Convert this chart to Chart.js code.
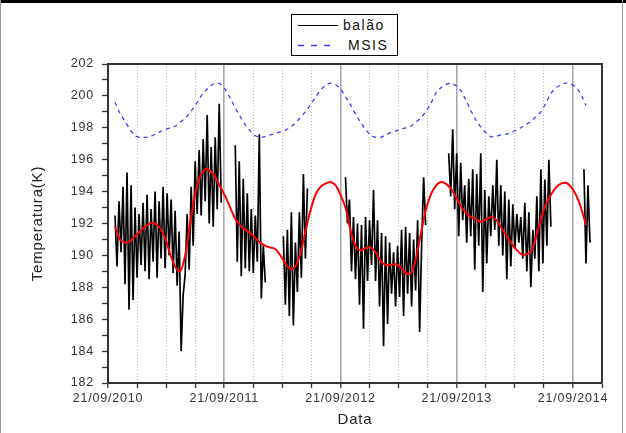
<!DOCTYPE html>
<html><head><meta charset="utf-8">
<script src="https://cdn.jsdelivr.net/npm/chart.js@4.4.0/dist/chart.umd.min.js"></script>
<style>
html,body{margin:0;padding:0;background:#fff;}
#wrap{position:relative;width:626px;height:433px;overflow:hidden;background:#fff;}
canvas{position:absolute;left:0;top:0;}
#frameTop{position:absolute;left:0;top:0;width:626px;height:3px;background:#000;}
#frameL{position:absolute;left:0;top:0;width:1px;height:433px;background:#999;}
#frameR{position:absolute;left:622px;top:0;width:1px;height:433px;background:#999;}
#legend{position:absolute;left:291px;top:14px;width:105px;height:40px;border:1px solid #000;background:#fff;
  font-family:"Liberation Sans",Arial,sans-serif;font-size:14px;letter-spacing:1.5px;color:#111;}
.row{position:absolute;left:0;width:105px;height:20px;line-height:20px;}
.row svg{position:absolute;left:6px;top:0;}
.row span{position:absolute;top:0;}
</style>
</head>
<body>
<div id="wrap">
  <canvas id="c" width="626" height="433"></canvas>
  <div id="frameTop"></div><div id="frameL"></div><div id="frameR"></div>
  <div id="legend">
    <div class="row" style="top:0px;">
      <svg width="40" height="20"><line x1="0" y1="10.5" x2="40" y2="10.5" stroke="#000" stroke-width="1.2"/></svg>
      <span style="left:51px;">balão</span>
    </div>
    <div class="row" style="top:20px;">
      <svg width="40" height="20"><line x1="0" y1="10.5" x2="38" y2="10.5" stroke="#3b3bff" stroke-width="1.3" stroke-dasharray="6,7"/></svg>
      <span style="left:56px;">MSIS</span>
    </div>
  </div>
</div>
<script>
// ---------- data (years since 21/09/2010 on x) ----------
const xTickLabels = ['21/09/2010', '21/09/2011', '21/09/2012', '21/09/2013', '21/09/2014'];
const yMin = 182, yMax = 202;

// balloon (balão) readings, one reading every balaoStep years, split in measurement campaigns
const balaoStep = 0.01724;
const balaoStarts = [0.06034, 1.09483, 1.50862, 2.04310, 2.93103, 4.09483];
const balaoSeg1 = [192.5,189.3,193.4,190.2,194.3,188.2,195.2,186.6,194.4,187.2,193.0,188.6,192.6,189.4,193.3,189.0,
  193.8,188.5,192.9,189.6,194.0,188.6,193.4,189.8,194.3,189.2,193.9,190.0,193.5,188.9,192.8,188.1,191.5,184.0,
  187.5,188.8,192.6,189.1,194.3,190.6,195.9,192.6,196.6,192.5,197.3,193.4,198.8,192.0,196.8,191.8,197.4,192.9,
  199.5,193.3];
const balaoSeg2 = [196.9,189.6,195.9,188.7,194.8,189.2,193.9,189.0,192.9,188.9,192.5,189.6,197.6,187.3,190.6,188.3];
const balaoSeg3 = [191.2,186.9,191.6,186.2,192.7,185.6,190.8,187.7,192.7,188.6,195.1,189.8,194.2];
const balaoSeg4 = [194.9,192.0,193.5,189.0,192.4,188.5,192.0,186.9,191.9,185.4,192.4,188.4,192.2,189.4,194.1,188.4,
  192.2,186.8,191.4,184.3,191.2,185.7,190.8,187.6,190.2,186.8,190.6,187.4,191.6,186.2,191.8,187.6,191.4,186.8,
  191.0,187.8,192.2,185.2,190.6,194.9,191.9];
const balaoSeg5 = [196.4,193.7,197.9,192.9,196.4,191.2,195.8,192.2,194.4,190.8,194.8,191.2,195.4,189.1,195.1,190.6,
  196.4,187.7,194.1,189.5,193.7,191.2,194.4,191.6,196.0,190.6,194.4,190.0,194.0,188.5,193.5,189.3,193.2,190.4,
  192.6,190.8,192.4,189.8,193.3,189.0,192.7,188.0,191.6,189.8,193.7,189.0,195.4,189.5,194.75,190.6,196.0,191.8];
const balaoSeg6 = [195.4,189.5,194.4,190.8];

// smoothed fit (red) and MSIS model (blue), one value every curveStep years
const curveStart = 0.06034, curveStep = 0.043103;
const fitValues = [191.8,191.0,190.8,190.9,191.2,191.5,191.8,192.0,192.0,191.7,191.1,190.1,189.3,189.0,190.0,192.0,
  193.9,194.95,195.4,195.3,194.9,194.3,193.7,193.0,192.3,191.9,191.6,191.4,191.1,190.8,190.6,190.5,190.4,190.0,
  189.5,189.15,189.3,190.1,191.5,192.8,193.8,194.3,194.5,194.6,194.4,193.8,193.0,191.6,190.6,190.3,190.45,190.5,
  190.2,189.65,189.4,189.4,189.45,189.25,188.9,188.85,189.7,191.3,192.8,193.8,194.35,194.6,194.5,194.2,193.7,
  193.1,192.7,192.4,192.3,192.1,192.25,192.4,192.25,191.8,191.3,190.8,190.4,190.1,190.05,190.25,191.1,192.25,
  193.2,193.8,194.25,194.5,194.55,194.3,193.8,193.0,191.9];
const msisValues = [199.6,198.9,198.4,197.9,197.5,197.4,197.4,197.45,197.6,197.75,197.9,198.0,198.1,198.35,198.6,
  198.95,199.4,199.9,200.3,200.6,200.8,200.75,200.4,199.85,199.25,198.7,198.2,197.8,197.5,197.4,197.45,197.55,
  197.65,197.75,197.85,198.05,198.3,198.65,199.0,199.45,199.9,200.35,200.65,200.8,200.7,200.45,199.95,199.45,
  198.85,198.35,197.9,197.55,197.4,197.4,197.55,197.7,197.8,197.9,198.0,198.1,198.35,198.6,199.0,199.5,200.15,
  200.5,200.7,200.8,200.65,200.35,199.75,199.1,198.5,198.05,197.7,197.45,197.45,197.55,197.6,197.7,197.85,198.0,
  198.2,198.4,198.7,199.0,199.55,200.15,200.5,200.7,200.8,200.75,200.55,200.1,199.4];

// ---------- build datasets ----------
const balaoSegs = [balaoSeg1, balaoSeg2, balaoSeg3, balaoSeg4, balaoSeg5, balaoSeg6];
const balaoData = [];
balaoSegs.forEach((seg, s) => {
  seg.forEach((v, i) => balaoData.push({x: balaoStarts[s] + i * balaoStep, y: v}));
  balaoData.push({x: balaoStarts[s] + seg.length * balaoStep, y: null});
});
const fitData = fitValues.map((v, i) => ({x: curveStart + i * curveStep, y: v}));
const msisData = msisValues.map((v, i) => ({x: curveStart + i * curveStep, y: v}));

const isMajor = v => Math.abs(v - Math.round(v)) < 1e-6;
const FONT = '"Liberation Sans", Arial, sans-serif';

const framePlugin = {
  id: 'frame',
  beforeDraw(chart) { chart.ctx.letterSpacing = '0.8px'; },
  afterDraw(chart) {
    const {ctx, chartArea: a} = chart;
    ctx.save();
    ctx.strokeStyle = '#333';
    ctx.lineWidth = 2;
    ctx.beginPath();
    ctx.moveTo(a.left, a.top); ctx.lineTo(a.right, a.top); ctx.lineTo(a.right, a.bottom);
    ctx.stroke();
    ctx.restore();
  }
};

new Chart(document.getElementById('c'), {
  type: 'line',
  data: {
    datasets: [
      {label: 'balão', data: balaoData, borderColor: '#000', borderWidth: 1.7, pointRadius: 0, tension: 0, spanGaps: false, order: 2},
      {label: 'fit', data: fitData, borderColor: '#ff0000', borderWidth: 2, pointRadius: 0, tension: 0.3, order: 0},
      {label: 'MSIS', data: msisData, borderColor: '#3b3bff', borderWidth: 1.3, borderDash: [4, 4], pointRadius: 0, tension: 0.3, order: 1}
    ]
  },
  options: {
    responsive: false,
    animation: false,
    devicePixelRatio: 1,
    layout: {padding: {left: 0, right: 24, top: 64, bottom: 0}},
    plugins: {legend: {display: false}, tooltip: {enabled: false}},
    scales: {
      x: {
        type: 'linear', position: 'bottom', min: 0, max: 4.25,
        afterFit: s => { s.height = 50; },
        ticks: {stepSize: 0.25, autoSkip: false, maxRotation: 0, padding: 3, color: '#333',
          font: {family: FONT, size: 12.5},
          callback: v => isMajor(v) ? xTickLabels[Math.round(v)] : ''},
        grid: {
          drawOnChartArea: true,
          color: c => (c.tick && isMajor(c.tick.value)) ? '#a8a8a8' : '#b8b8b8',
          lineWidth: c => (c.tick && isMajor(c.tick.value)) ? 1.6 : 1,
          tickLength: 5, tickColor: '#333', tickWidth: 1.3
        },
        border: {color: '#333', width: 2, dash: c => (c.tick && !isMajor(c.tick.value)) ? [1, 2] : []},
        title: {display: true, text: 'Data', color: '#222', font: {family: FONT, size: 15}, padding: {top: 0, bottom: 4}}
      },
      y: {
        type: 'linear', min: yMin, max: yMax,
        afterFit: s => { s.width = 108; },
        ticks: {stepSize: 1, autoSkip: false, padding: 8, color: '#333',
          font: {family: FONT, size: 12.5},
          callback: v => (v % 2 === 0) ? String(v) : ''},
        grid: {drawOnChartArea: false, tickLength: 6, tickColor: '#333', tickWidth: 1.3},
        border: {color: '#333', width: 2},
        title: {display: true, text: 'Temperatura(K)', color: '#222', font: {family: FONT, size: 15}, padding: {top: 29, bottom: 0}}
      }
    }
  },
  plugins: [framePlugin]
});
</script>
</body></html>
